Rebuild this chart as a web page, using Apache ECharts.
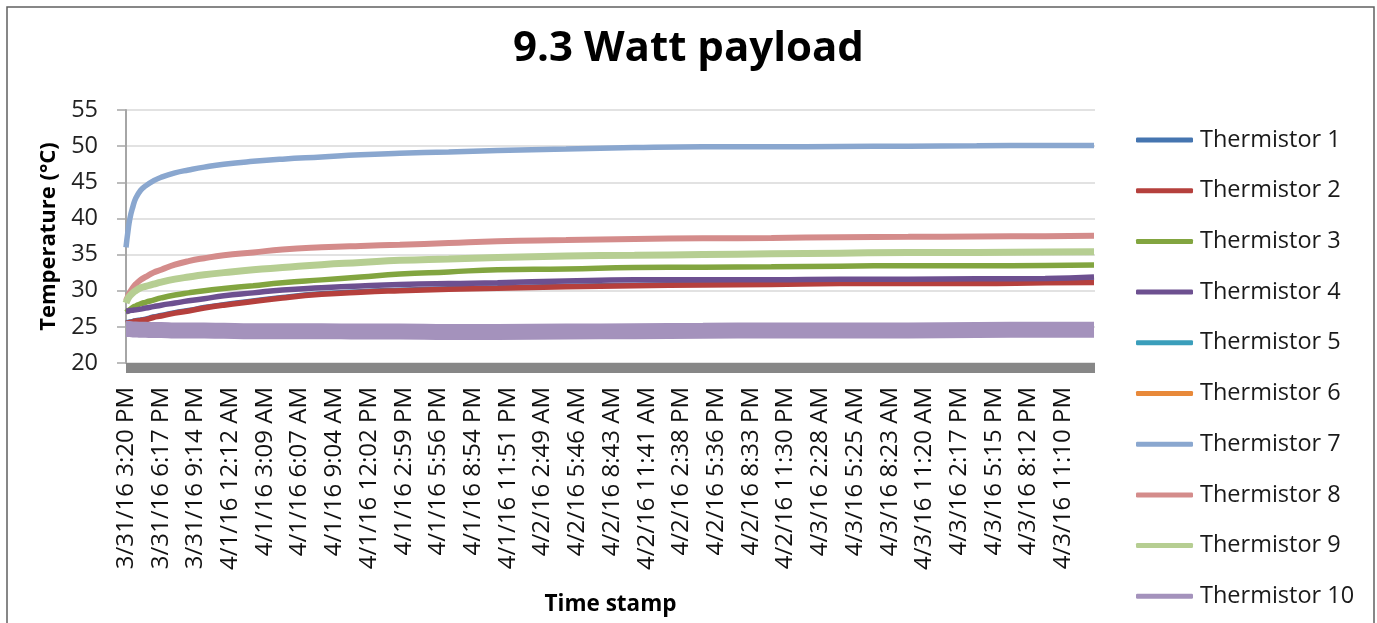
<!doctype html>
<html>
<head>
    <meta charset="utf-8">
    <title>9.3 Watt payload</title>
    <script type="text/javascript" src="https://cdn.jsdelivr.net/npm/echarts@6/dist/echarts.min.js"></script>
    <style>
        html, body{
            margin: 0;
            padding: 0;
            background-color: #fff;
        }
        #chartBox{
            width: 1377px;
            height: 623px;
        }
    </style>
</head>
<body>
    <div id="chartBox"></div>
<script type="text/javascript">
    // minutes after 3/31/16 3:20 PM at which the curves were read
    var minutes = [0, 10, 20, 35, 50, 75, 100, 140, 180, 250, 320, 400, 500, 650, 800, 1000, 1200, 1400, 1650, 1900, 2250, 2600, 2950, 3300, 3650, 4000, 4350, 4700, 4950];

    // tick labels, one every 177.5 minutes
    var tickLabels = ["3/31/16 3:20 PM","3/31/16 6:17 PM","3/31/16 9:14 PM","4/1/16 12:12 AM","4/1/16 3:09 AM","4/1/16 6:07 AM","4/1/16 9:04 AM","4/1/16 12:02 PM","4/1/16 2:59 PM","4/1/16 5:56 PM","4/1/16 8:54 PM","4/1/16 11:51 PM","4/2/16 2:49 AM","4/2/16 5:46 AM","4/2/16 8:43 AM","4/2/16 11:41 AM","4/2/16 2:38 PM","4/2/16 5:36 PM","4/2/16 8:33 PM","4/2/16 11:30 PM","4/3/16 2:28 AM","4/3/16 5:25 AM","4/3/16 8:23 AM","4/3/16 11:20 AM","4/3/16 2:17 PM","4/3/16 5:15 PM","4/3/16 8:12 PM","4/3/16 11:10 PM"];
    var tickStep = 177.5;

    var names = ["Thermistor 1","Thermistor 2","Thermistor 3","Thermistor 4","Thermistor 5","Thermistor 6","Thermistor 7","Thermistor 8","Thermistor 9","Thermistor 10"];

    var t1  = [25.6,25.65,25.7,25.8,25.9,26.0,26.1,26.4,26.6,27.0,27.3,27.7,28.1,28.6,29.1,29.6,29.9,30.1,30.3,30.45,30.65,30.8,30.9,30.95,31.1,31.1,31.1,31.2,31.25];
    var t2  = [25.5,25.55,25.6,25.7,25.8,25.9,26.0,26.3,26.5,26.9,27.2,27.6,28.0,28.5,29.0,29.5,29.8,30.0,30.2,30.35,30.55,30.7,30.8,30.85,31.0,31.0,31.0,31.1,31.15];
    var t3  = [27.0,27.2,27.4,27.7,27.9,28.2,28.4,28.7,29.0,29.4,29.7,30.0,30.3,30.7,31.1,31.5,31.9,32.3,32.6,32.9,33.0,33.2,33.25,33.3,33.4,33.45,33.45,33.5,33.55];
    var t4  = [27.2,27.2,27.25,27.3,27.35,27.45,27.6,27.8,28.0,28.3,28.6,28.9,29.3,29.7,30.1,30.4,30.65,30.85,31.0,31.1,31.35,31.5,31.5,31.5,31.6,31.6,31.65,31.7,31.9];
    var t5  = [25.1,25.1,25.1,25.1,25.1,25.1,25.1,25.0,25.0,25.0,25.0,25.0,24.9,24.9,24.9,24.9,24.9,24.9,24.9,24.9,25.0,25.0,25.1,25.1,25.2,25.2,25.2,25.3,25.3];
    var t6  = [24.8,24.8,24.8,24.8,24.8,24.8,24.8,24.7,24.7,24.7,24.7,24.6,24.6,24.6,24.6,24.6,24.6,24.6,24.6,24.6,24.7,24.7,24.7,24.7,24.8,24.8,24.8,24.8,24.8];
    var t7  = [36.0,38.2,40.0,41.6,42.8,43.9,44.5,45.2,45.7,46.3,46.7,47.1,47.5,47.9,48.2,48.5,48.8,49.0,49.2,49.4,49.6,49.8,49.9,49.9,49.95,50.0,50.05,50.1,50.1];
    var t8  = [28.6,29.2,29.8,30.4,30.9,31.5,31.9,32.5,32.9,33.6,34.1,34.5,34.9,35.3,35.7,36.0,36.2,36.35,36.6,36.85,37.0,37.15,37.25,37.3,37.4,37.45,37.5,37.55,37.6];
    var t9  = [28.3,28.9,29.3,29.7,30.0,30.4,30.6,30.9,31.2,31.6,31.9,32.2,32.5,32.9,33.2,33.6,33.9,34.2,34.4,34.6,34.8,34.9,35.0,35.1,35.2,35.3,35.3,35.35,35.4];
    var t10 = [24.7,24.7,24.7,24.65,24.65,24.6,24.6,24.55,24.55,24.5,24.5,24.5,24.45,24.4,24.4,24.4,24.35,24.35,24.3,24.3,24.35,24.4,24.45,24.5,24.5,24.5,24.55,24.6,24.6];

    var allData = [t1, t2, t3, t4, t5, t6, t7, t8, t9, t10];
    var colorList = ['#4575b0','#b5403d','#82a540','#6d5090','#3a9ebb','#e8893a','#8aa7cf','#d48c8b','#b6ce92','#a492bc'];
    var widthList = [5, 5.5, 5.5, 5.5, 5, 5, 5.5, 6, 7, 16];

    var fontName = 'Open Sans';

    //系列
    var seriesList = [];
    for (var i = 0; i < allData.length; i++) {
        var pts = [];
        for (var j = 0; j < minutes.length; j++) {
            pts.push([minutes[j], allData[i][j]]);
        }
        seriesList.push({
            name: names[i],
            type: 'line',
            data: pts,
            symbol: 'none',
            smooth: true,
            xAxisIndex: 0,
            lineStyle: { color: colorList[i], width: widthList[i], cap: 'butt' },
            itemStyle: { color: colorList[i] }
        });
    }

    var myChart = echarts.init(document.getElementById("chartBox"));
    var option = {
        animation: false,
        backgroundColor: '#fff',
        title: {
            text: '9.3 Watt payload',
            left: 'center',
            top: 23,
            textStyle: { fontFamily: fontName, fontSize: 42, fontWeight: 'bold', color: '#000' }
        },
        legend: {
            orient: 'vertical',
            left: 1136,
            top: 125,
            padding: 0,
            icon: 'roundRect',
            itemWidth: 57,
            itemHeight: 5,
            itemGap: 20.7,
            textStyle: { fontFamily: fontName, fontSize: 23.5, lineHeight: 30, color: '#1a1a1a', padding: [0, 0, 0, 2] },
            data: names
        },
        grid: {
            left: 126,
            right: 282,
            top: 110,
            bottom: 260,
            containLabel: false
        },
        graphic: [{
            type: 'rect',
            shape: { x: 7, y: 7, width: 1367, height: 700 },
            style: { fill: 'none', stroke: '#606060', lineWidth: 1.5 },
            silent: true
        }],
        xAxis: [{
            type: 'value',
            min: 0,
            max: 4955,
            interval: tickStep,
            name: 'Time stamp',
            nameLocation: 'middle',
            nameGap: 230,
            nameTextStyle: { fontFamily: fontName, fontSize: 22.5, fontWeight: 'bold', color: '#000' },
            axisLine: { show: false },
            axisTick: { show: false },
            splitLine: { show: false },
            axisLabel: {
                rotate: 90,
                margin: 24,
                fontFamily: fontName,
                fontSize: 24,
                color: '#111',
                showMaxLabel: false,
                formatter: function (v) {
                    var k = Math.round(v / tickStep);
                    if (Math.abs(v / tickStep - k) > 0.01) return '';
                    return tickLabels[k] || '';
                }
            }
        }, {
            // the thick grey floor under the plot
            type: 'value',
            min: 0,
            max: 4955,
            position: 'bottom',
            offset: 5,
            axisLine: { show: true, lineStyle: { color: '#878787', width: 10, cap: 'butt' } },
            axisTick: { show: false },
            axisLabel: { show: false },
            splitLine: { show: false }
        }],
        yAxis: {
            type: 'value',
            min: 20,
            max: 55,
            interval: 5,
            name: 'Temperature (°C)',
            nameLocation: 'middle',
            nameGap: 64,
            nameTextStyle: { fontFamily: fontName, fontSize: 22, fontWeight: 'bold', color: '#000' },
            axisLine: { show: true, lineStyle: { color: '#a6a6a6', width: 2 } },
            axisTick: { show: true, length: 9, lineStyle: { color: '#a6a6a6', width: 1.5 } },
            splitLine: { show: true, lineStyle: { color: '#d9d9d9', width: 1.5 } },
            axisLabel: { margin: 28, fontFamily: fontName, fontSize: 23.5, color: '#222' }
        },
        series: seriesList
    };
    myChart.setOption(option);
</script>
</body>
</html>
